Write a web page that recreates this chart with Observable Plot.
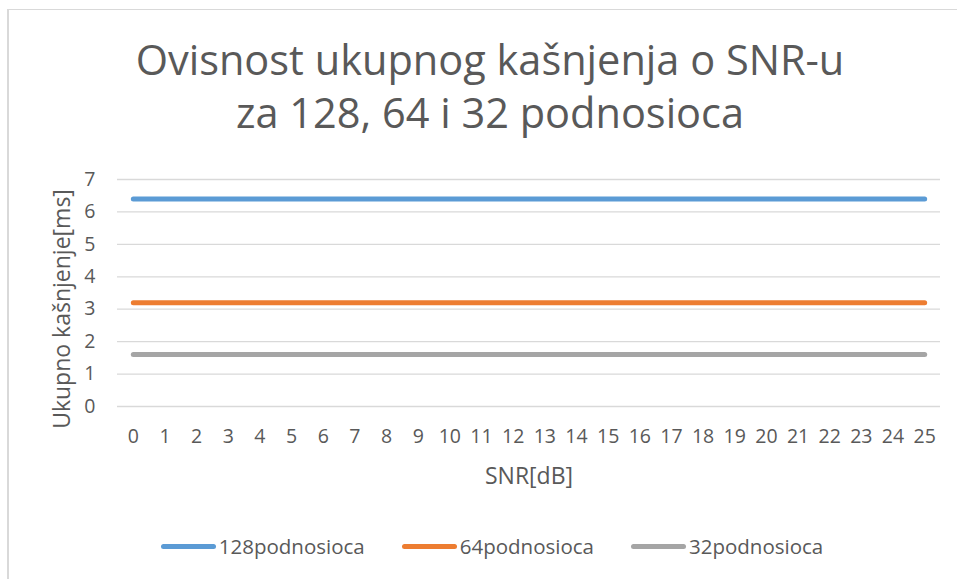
<!DOCTYPE html>
<html><head><meta charset="utf-8">
<script src="https://cdn.jsdelivr.net/npm/d3@7"></script>
<script src="https://cdn.jsdelivr.net/npm/@observablehq/plot@0.6"></script>
<style>
body{margin:0;width:957px;height:579px;overflow:hidden;background:#fff;font-family:"Open Sans",sans-serif;color:#595959;position:relative}
#frame{position:absolute;left:7px;top:9px;right:-5px;bottom:-5px;border-left:2px solid #d9d9d9;border-top:1px solid #d9d9d9}
#title{position:absolute;left:0;width:980px;top:33px;text-align:center;font-size:41.5px;line-height:53px;color:#595959}
#chart{position:absolute;left:0;top:150px}
#legend{position:absolute;top:532px;left:0;width:984px;display:flex;justify-content:center;gap:37px;font-size:20.5px;color:#595959}
.item{display:flex;align-items:center}
.sw{width:55px;height:5px;border-radius:3px;margin-right:3px}
</style></head>
<body>
<div id="frame"></div>
<div id="title">Ovisnost ukupnog kašnjenja o SNR-u<br>za 128, 64 i 32 podnosioca</div>
<div id="chart"></div>
<div id="legend"></div>
<script>
const snr = [0,1,2,3,4,5,6,7,8,9,10,11,12,13,14,15,16,17,18,19,20,21,22,23,24,25];
const delay128 = [6.4,6.4,6.4,6.4,6.4,6.4,6.4,6.4,6.4,6.4,6.4,6.4,6.4,6.4,6.4,6.4,6.4,6.4,6.4,6.4,6.4,6.4,6.4,6.4,6.4,6.4];
const delay64 = [3.2,3.2,3.2,3.2,3.2,3.2,3.2,3.2,3.2,3.2,3.2,3.2,3.2,3.2,3.2,3.2,3.2,3.2,3.2,3.2,3.2,3.2,3.2,3.2,3.2,3.2];
const delay32 = [1.6,1.6,1.6,1.6,1.6,1.6,1.6,1.6,1.6,1.6,1.6,1.6,1.6,1.6,1.6,1.6,1.6,1.6,1.6,1.6,1.6,1.6,1.6,1.6,1.6,1.6];
const seriesNames = ["128podnosioca","64podnosioca","32podnosioca"];
const colors = ["#5B9BD5","#ED7D31","#A5A5A5"];
const yTicks = [0,1,2,3,4,5,6,7];
const yLabel = "Ukupno kašnjenje[ms]";
const xLabel = "SNR[dB]";

const allSeries = [delay128, delay64, delay32];
const data = [];
seriesNames.forEach((s,i) => snr.forEach((x,j) => data.push({snr:x, delay:allSeries[i][j], series:s})));

const chart = Plot.plot({
  width: 957, height: 350,
  marginLeft: 117, marginRight: 17, marginTop: 29, marginBottom: 94,
  x: {type: "point", domain: snr, padding: 0.5, round: false, label: null},
  y: {domain: [0, 7], label: null},
  color: {domain: seriesNames, range: colors},
  style: {fontFamily: "'Open Sans', sans-serif", fontSize: "19.5px", color: "#595959", background: "transparent"},
  marks: [
    Plot.gridY(yTicks, {stroke: "#d9d9d9", strokeOpacity: 1, strokeWidth: 1.3}),
    Plot.axisY(yTicks, {tickSize: 0, tickPadding: 22, label: null, fill: "#595959"}),
    Plot.axisX(snr, {tickSize: 0, tickPadding: 23, label: null, fill: "#595959"}),
    Plot.lineY(data, {x: "snr", y: "delay", stroke: "series", strokeWidth: 5, strokeLinecap: "round"}),
    Plot.text([yLabel], {frameAnchor: "left", dx: -55, dy: 16, rotate: -90, fontSize: 23, fill: "#595959", textAnchor: "middle", lineAnchor: "middle"}),
    Plot.text([xLabel], {frameAnchor: "bottom", dy: 70, fontSize: 23, fill: "#595959", textAnchor: "middle", lineAnchor: "middle"})
  ]
});
document.getElementById("chart").appendChild(chart);

const legend = document.getElementById("legend");
seriesNames.forEach((s,i) => {
  const item = document.createElement("div");
  item.className = "item";
  const sw = document.createElement("span");
  sw.className = "sw";
  sw.style.background = colors[i];
  const t = document.createElement("span");
  t.textContent = s;
  item.appendChild(sw); item.appendChild(t);
  legend.appendChild(item);
});
</script>
</body></html>
